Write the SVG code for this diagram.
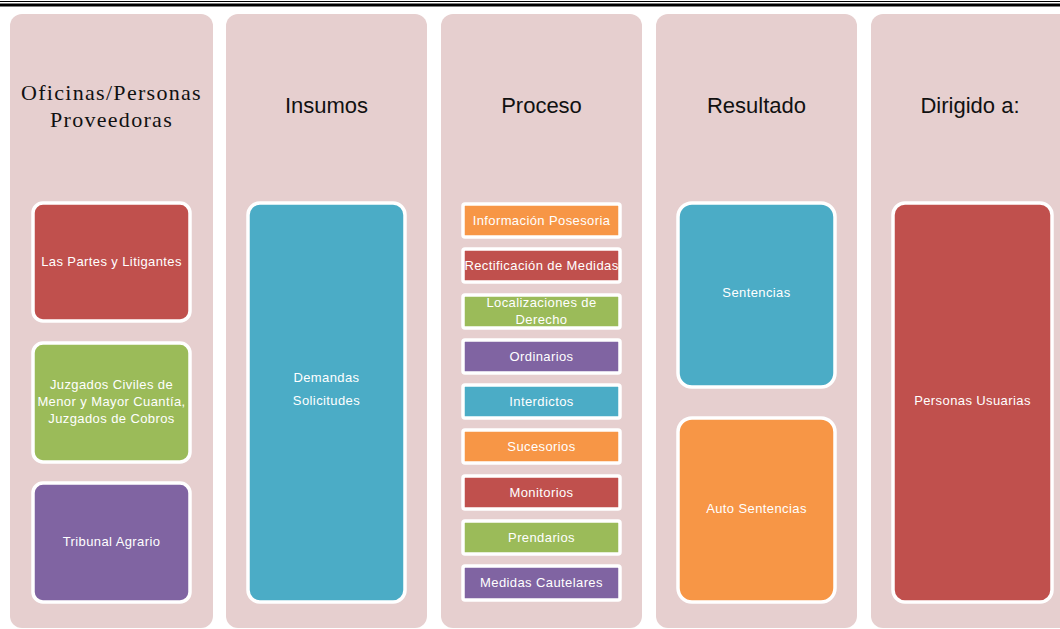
<svg xmlns="http://www.w3.org/2000/svg" width="1060" height="629" viewBox="0 0 1060 629">
<style>
.col{fill:#E6CFCF}
.hs{font-family:"Liberation Sans",Arial,sans-serif;font-size:22px;fill:#111;text-anchor:middle}
.hserif{font-family:"Liberation Serif","Times New Roman",serif;font-size:22px;fill:#111;text-anchor:middle;letter-spacing:1.3px}
.box{stroke:#fff;stroke-width:3.5}
.t{font-family:"Liberation Sans",Arial,sans-serif;font-size:13px;fill:#fff;text-anchor:middle;letter-spacing:0.4px}
.red{fill:#C0504D}.green{fill:#9BBB59}.purple{fill:#8064A2}.teal{fill:#4BACC6}.orange{fill:#F79646}
</style>
<rect width="1060" height="629" fill="#fff"/>
<line x1="0" y1="1.5" x2="1060" y2="1.5" stroke="#000" stroke-width="1.2"/>
<line x1="0" y1="5" x2="1060" y2="5" stroke="#000" stroke-width="3"/>

<g id="col1">
<rect class="col" x="10" y="14" width="203" height="614" rx="12"/>
<text class="hserif" x="111.5" y="100">Oficinas/Personas</text>
<text class="hserif" x="111.5" y="127">Proveedoras</text>
</g>
<g id="col2">
<rect class="col" x="226" y="14" width="201" height="614" rx="12"/>
<text class="hs" x="326.5" y="113">Insumos</text>
</g>
<g id="col3">
<rect class="col" x="441" y="14" width="201" height="614" rx="12"/>
<text class="hs" x="541.5" y="113">Proceso</text>
</g>
<g id="col4">
<rect class="col" x="656" y="14" width="201" height="614" rx="12"/>
<text class="hs" x="756.5" y="113">Resultado</text>
</g>
<g id="col5">
<rect class="col" x="871" y="14" width="203" height="614" rx="12"/>
<text class="hs" x="970" y="113">Dirigido a:</text>
</g>

<g id="n-partes">
<rect class="box red" x="33" y="203" width="157" height="118" rx="10"/>
<text class="t" x="111.5" y="266">Las Partes y Litigantes</text>
</g>
<g id="n-juzgados">
<rect class="box green" x="33" y="343" width="157" height="119" rx="10"/>
<text class="t" x="111.5" y="389">Juzgados Civiles de</text>
<text class="t" x="111.5" y="406">Menor y Mayor Cuantía,</text>
<text class="t" x="111.5" y="423">Juzgados de Cobros</text>
</g>
<g id="n-tribunal">
<rect class="box purple" x="33" y="483" width="157" height="119" rx="10"/>
<text class="t" x="111.5" y="546">Tribunal Agrario</text>
</g>

<g id="n-demandas">
<rect class="box teal" x="248" y="203" width="157" height="399" rx="12"/>
<text class="t" x="326.5" y="382">Demandas</text>
<text class="t" x="326.5" y="405">Solicitudes</text>
</g>

<g id="n-info">
<rect class="box orange" x="463" y="204" width="157" height="33" rx="2"/>
<text class="t" x="541.5" y="225">Información Posesoria</text>
</g>
<g id="n-rect">
<rect class="box red" x="463" y="249" width="157" height="33" rx="2"/>
<text class="t" x="541.5" y="270">Rectificación de Medidas</text>
</g>
<g id="n-local">
<rect class="box green" x="463" y="295" width="157" height="33" rx="2"/>
<text class="t" x="541.5" y="307">Localizaciones de</text>
<text class="t" x="541.5" y="324">Derecho</text>
</g>
<g id="n-ord">
<rect class="box purple" x="463" y="340" width="157" height="33" rx="2"/>
<text class="t" x="541.5" y="361">Ordinarios</text>
</g>
<g id="n-inter">
<rect class="box teal" x="463" y="385" width="157" height="33" rx="2"/>
<text class="t" x="541.5" y="406">Interdictos</text>
</g>
<g id="n-suc">
<rect class="box orange" x="463" y="430" width="157" height="33" rx="2"/>
<text class="t" x="541.5" y="451">Sucesorios</text>
</g>
<g id="n-mon">
<rect class="box red" x="463" y="476" width="157" height="33" rx="2"/>
<text class="t" x="541.5" y="497">Monitorios</text>
</g>
<g id="n-pren">
<rect class="box green" x="463" y="521" width="157" height="33" rx="2"/>
<text class="t" x="541.5" y="542">Prendarios</text>
</g>
<g id="n-med">
<rect class="box purple" x="463" y="566" width="157" height="34" rx="2"/>
<text class="t" x="541.5" y="587">Medidas Cautelares</text>
</g>

<g id="n-sent">
<rect class="box teal" x="678" y="203" width="157" height="184" rx="14"/>
<text class="t" x="756.5" y="297">Sentencias</text>
</g>
<g id="n-auto">
<rect class="box orange" x="678" y="418" width="157" height="184" rx="14"/>
<text class="t" x="756.5" y="513">Auto Sentencias</text>
</g>

<g id="n-personas">
<rect class="box red" x="893" y="203" width="159" height="399" rx="12"/>
<text class="t" x="972.5" y="405">Personas Usuarias</text>
</g>

<g id="connectors"></g>
</svg>
